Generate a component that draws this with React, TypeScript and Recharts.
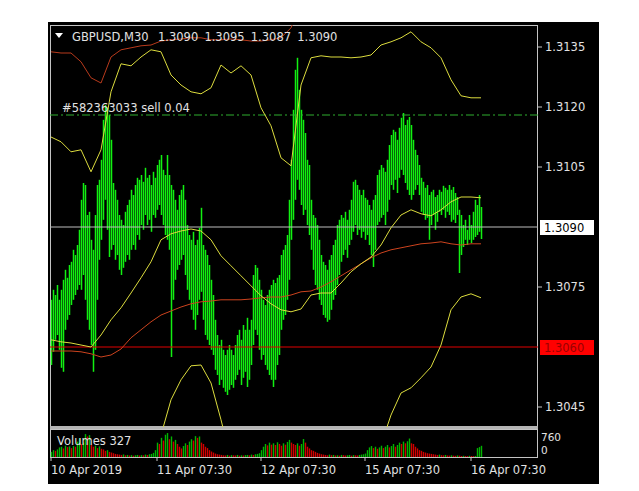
import React from 'react';
import { ComposedChart, Bar, Line, XAxis, YAxis, ReferenceLine } from 'recharts';

const FONT = "'DejaVu Sans', sans-serif";

// ---- header / labels ----
const symbolTitle = 'GBPUSD,M30';
const lastBarOHLC = ['1.3090', '1.3095', '1.3087', '1.3090'];
const orderLabel = '#582363033 sell 0.04';
const volumeLabel = 'Volumes 327';

// ---- price bars (M30), high / low ----
const barHigh = [
  1.30718, 1.30743, 1.3073, 1.30755, 1.30718, 1.30743, 1.30768, 1.30793, 1.30773, 1.30805,
  1.30813, 1.30843, 1.3083, 1.30855, 1.30893, 1.30968, 1.3101, 1.31005, 1.3093, 1.30938,
  1.30868, 1.30843, 1.3093, 1.31005, 1.31018, 1.31068, 1.31168, 1.31205, 1.31198, 1.3118,
  1.31118, 1.3101, 1.30993, 1.30968, 1.3093, 1.30918, 1.30905, 1.30938, 1.30955, 1.30968,
  1.30993, 1.3098, 1.31005, 1.31023, 1.31018, 1.3103, 1.31013, 1.31048, 1.31023, 1.3103,
  1.31005, 1.31038, 1.31023, 1.31055, 1.31068, 1.3108, 1.31043, 1.3103, 1.3108, 1.3103,
  1.31005, 1.30993, 1.30968, 1.30943, 1.3098, 1.30993, 1.31005, 1.30968, 1.30905, 1.3088,
  1.30868, 1.30888, 1.30855, 1.30868, 1.30898, 1.30948, 1.30855, 1.30843, 1.3083, 1.30805,
  1.30768, 1.3073, 1.30668, 1.3063, 1.30605, 1.30618, 1.30593, 1.3058, 1.30593, 1.30605,
  1.30593, 1.3058, 1.30605, 1.3063, 1.30643, 1.30618, 1.30655, 1.30643, 1.30673, 1.30643,
  1.30668, 1.3078, 1.30805, 1.30798, 1.30768, 1.30743, 1.30718, 1.30705, 1.3073, 1.30743,
  1.30755, 1.30768, 1.3076, 1.30773, 1.3078, 1.3083, 1.30843, 1.30855, 1.3088, 1.30968,
  1.31068, 1.31193, 1.31293, 1.31323, 1.31243, 1.31193, 1.31168, 1.31135, 1.31068, 1.31055,
  1.30968, 1.3093, 1.30923, 1.30905, 1.30868, 1.3083, 1.30813, 1.30805, 1.30793, 1.30818,
  1.3083, 1.30855, 1.30868, 1.30905, 1.30918, 1.3093, 1.30923, 1.30938, 1.30918, 1.30943,
  1.30968, 1.31013, 1.31018, 1.31005, 1.30993, 1.3098, 1.30993, 1.30973, 1.30968, 1.30955,
  1.30943, 1.30968, 1.3098, 1.3103, 1.31043, 1.31055, 1.31048, 1.31038, 1.31068, 1.31105,
  1.3113, 1.31143, 1.31138, 1.31118, 1.31148, 1.31173, 1.31185, 1.31155, 1.31168, 1.31175,
  1.31155, 1.31118, 1.31093, 1.3108, 1.31055, 1.31023, 1.31013, 1.30998, 1.31005, 1.3098,
  1.30988, 1.30993, 1.30975, 1.3098, 1.30993, 1.30988, 1.31003, 1.30998, 1.30993, 1.31005,
  1.30993, 1.31, 1.30985, 1.30975, 1.30943, 1.3093, 1.30905, 1.30918, 1.30893, 1.3093,
  1.30905, 1.30938, 1.30968, 1.30955, 1.3098, 1.3095,
];
const barLow = [
  1.30555, 1.30588, 1.30618, 1.3063, 1.30593, 1.30548, 1.30538, 1.30643, 1.30668, 1.3068,
  1.30705, 1.30718, 1.3073, 1.30743, 1.30755, 1.30743, 1.3078, 1.30718, 1.30668, 1.30643,
  1.30605, 1.30538, 1.30593, 1.30718, 1.30818, 1.30868, 1.30918, 1.30968, 1.30893, 1.30825,
  1.30843, 1.30855, 1.30818, 1.3083, 1.30793, 1.3078, 1.30798, 1.30813, 1.3083, 1.30818,
  1.30843, 1.30855, 1.30843, 1.3088, 1.30868, 1.30905, 1.30893, 1.3093, 1.30905, 1.30918,
  1.30888, 1.3093, 1.30923, 1.30943, 1.30955, 1.3093, 1.30905, 1.3088, 1.30868, 1.30843,
  1.30575, 1.30718, 1.30768, 1.30793, 1.30805, 1.30818, 1.3083, 1.3078, 1.30743, 1.30718,
  1.30693, 1.30668, 1.30643, 1.3068, 1.30718, 1.30738, 1.30668, 1.3063, 1.30618, 1.30605,
  1.30593, 1.3058, 1.30543, 1.3053, 1.30505, 1.30518, 1.30498, 1.30488, 1.3048, 1.30493,
  1.30505, 1.30498, 1.30518, 1.3053, 1.30543, 1.30505, 1.30523, 1.30538, 1.305, 1.30518,
  1.30555, 1.30605, 1.30643, 1.3063, 1.30593, 1.30568, 1.3058, 1.30555, 1.30543, 1.3053,
  1.30518, 1.305, 1.30518, 1.30555, 1.3058, 1.30643, 1.30668, 1.3068, 1.30718, 1.30768,
  1.30868, 1.30918, 1.30968, 1.31018, 1.30993, 1.30955, 1.3093, 1.30943, 1.30905, 1.3088,
  1.30843, 1.30793, 1.30755, 1.30743, 1.30718, 1.30705, 1.3068, 1.30673, 1.30663, 1.30668,
  1.30693, 1.30718, 1.3073, 1.30755, 1.3078, 1.30813, 1.3083, 1.30843, 1.30823, 1.30855,
  1.30868, 1.30888, 1.30905, 1.3088, 1.30893, 1.30873, 1.30888, 1.30868, 1.3088, 1.30855,
  1.3083, 1.308, 1.30843, 1.30905, 1.30913, 1.30923, 1.3093, 1.30905, 1.30938, 1.30968,
  1.31005, 1.30993, 1.31018, 1.30985, 1.31023, 1.31043, 1.3103, 1.3101, 1.30993, 1.3098,
  1.30968, 1.3098, 1.30993, 1.31005, 1.3098, 1.30938, 1.3093, 1.30918, 1.30923, 1.30868,
  1.30905, 1.3093, 1.30893, 1.30913, 1.30938, 1.3093, 1.30943, 1.30923, 1.30938, 1.3093,
  1.30913, 1.30918, 1.3091, 1.3093, 1.30785, 1.3083, 1.3085, 1.30868, 1.30855, 1.30868,
  1.3086, 1.30868, 1.30875, 1.3088, 1.30888, 1.3087,
];

// ---- tick volumes ----
const volumes = [
  150, 200, 180,
  220, 280, 300, 250, 330,
  290, 310, 260, 320, 300,
  450, 550, 380,
  420, 670, 600, 640, 350,
  300, 330, 260, 310, 240,
  220, 180, 200, 150, 130,
  110, 90, 80, 70, 60,
  75, 50, 60, 45, 55,
  40, 50, 60, 45, 55,
  50, 70, 60, 80, 90, 120,
  200, 420, 380, 560, 480, 650, 700, 520, 600, 450, 500,
  380, 300, 250, 320,
  400, 350, 450, 520, 480, 610, 560, 600, 420, 380, 300,
  260, 200, 160, 130, 100, 80, 70,
  60, 50, 45, 60, 40, 55, 50, 45, 60, 40, 50, 45, 55, 60, 50, 70, 60, 80, 90, 110,
  200, 300, 380, 340, 420, 360, 400, 350, 430, 380, 330, 400, 360, 440, 500,
  420, 380, 350, 400, 330, 380, 525, 420, 300, 250, 200, 180, 150, 120, 100,
  80, 70, 60, 50, 70, 55, 60, 45, 50, 40, 60, 55, 45, 50, 60, 40, 55, 50, 45, 60, 70, 80, 100,
  200, 280, 320, 260, 300, 240, 280, 330, 260, 300, 350, 280, 320, 380, 300, 350, 420, 380,
  450, 400, 460, 540, 400, 380, 300, 250, 200,
  180, 150, 130, 110, 100, 90, 80, 70, 60, 70, 55, 50, 60, 45, 40, 50, 40, 35, 45, 40,
  30, 35, 30, 25, 35, 30, 25,
  30, 260, 290, 327,
];

// ---- indicator readings, one every LINE_STEP bars ----
const LINE_STEP = 5;
const upperBand = [
  1.31125, 1.31113, 1.31088, 1.31093, 1.31038, 1.31093, 1.31238, 1.31308, 1.31303, 1.31325,
  1.31343, 1.31338, 1.3128, 1.31255, 1.31238, 1.31233, 1.31248, 1.31305, 1.31285, 1.31303,
  1.3128, 1.31198, 1.31153, 1.31073, 1.31053, 1.31255, 1.31323, 1.31328, 1.31325, 1.31325,
  1.31323, 1.31325, 1.3133, 1.31355, 1.31363, 1.31373, 1.31388, 1.31363, 1.31348, 1.31323,
  1.31268, 1.31228, 1.31223, 1.31223,
];
const middleBand = [
  1.30618, 1.30613, 1.3061, 1.30605, 1.306, 1.3063, 1.30668, 1.30698, 1.30735, 1.30773,
  1.30813, 1.30868, 1.30883, 1.3089, 1.30895, 1.3089, 1.30868, 1.30828, 1.30803, 1.30778,
  1.30753, 1.30728, 1.30708, 1.30693, 1.30688, 1.30695, 1.3073, 1.30735, 1.30735, 1.3076,
  1.30788, 1.30808, 1.30825, 1.30855, 1.30898, 1.3093, 1.30943, 1.30933, 1.30928, 1.30943,
  1.30963, 1.30975, 1.30975, 1.30973,
];
const lowerBand = [
  1.30118, 1.30118, 1.3013, 1.30118, 1.30168, 1.30143, 1.30093, 1.30093, 1.30168, 1.30218,
  1.3028, 1.3038, 1.30468, 1.30518, 1.30553, 1.30555, 1.3051, 1.30418, 1.30318, 1.30243,
  1.30218, 1.30243, 1.30255, 1.30305, 1.30318, 1.30143, 1.3013, 1.30143, 1.30143, 1.30193,
  1.30255, 1.30293, 1.30318, 1.30355, 1.3043, 1.30485, 1.30498, 1.30523, 1.3055, 1.30605,
  1.30693, 1.30725, 1.30733, 1.30723,
];
const slowMA = [
  1.3059, 1.3059, 1.3059, 1.30588, 1.30583, 1.30575, 1.3058, 1.30595, 1.30623, 1.30643,
  1.30663, 1.3068, 1.3069, 1.307, 1.30708, 1.30713, 1.30715, 1.30718, 1.30718, 1.30718,
  1.3072, 1.30723, 1.30725, 1.30725, 1.3073, 1.30738, 1.3074, 1.3075, 1.30763, 1.30778,
  1.30793, 1.30808, 1.30823, 1.30835, 1.30843, 1.30848, 1.30853, 1.30858, 1.3086, 1.30863,
  1.30858, 1.30855, 1.30858, 1.30858,
];
const outerUpper = [
  1.31338, 1.31335, 1.31335, 1.31313, 1.31273, 1.3126, 1.31325, 1.31343, 1.31348, 1.31353,
  1.31355, 1.31365, 1.31368, 1.3137, 1.31373, 1.31373, 1.31368, 1.31368, 1.3137, 1.31368,
  1.31365, 1.31365, 1.31368, 1.31373, 1.31398, 1.31455, 1.31493, 1.3151, 1.3152, 1.3152,
  1.3152, 1.3153, 1.3154, 1.3155, 1.3156, 1.3157, 1.3158, 1.3158, 1.3158, 1.3157,
  1.3156, 1.3155, 1.3154, 1.3154,
];

// ---- axes ----
const priceMin = 1.304;
const priceMax = 1.31405;
const priceTicks = [1.3045, 1.306, 1.3075, 1.309, 1.3105, 1.312, 1.3135];
const bidPrice = 1.309;
const stopPrice = 1.306;
const orderPrice = 1.3118;
const volumeMax = 760;
const timeLabels = ['10 Apr 2019', '11 Apr 07:30', '12 Apr 07:30', '15 Apr 07:30', '16 Apr 07:30'];
const timeLabelBars = [0, 53, 105, 157, 210];
const SLOTS = 244;

const BAR_GREEN = '#12f012';
const VOL_UP = '#00b400';
const VOL_DOWN = '#d00000';

const table = Array.from({ length: SLOTS }, (_, i) => {
  const row: any = { idx: i };
  if (i < barHigh.length) {
    row.hl = [barLow[i], barHigh[i]];
    row.vol = volumes[i];
    row.volUp = i === 0 ? true : volumes[i] > volumes[i - 1];
  }
  if (i % LINE_STEP === 0) {
    const k = i / LINE_STEP;
    if (k < upperBand.length) {
      row.upper = upperBand[k];
      row.middle = middleBand[k];
      row.lower = lowerBand[k];
      row.ma = slowMA[k];
      row.outer = outerUpper[k];
    }
  }
  return row;
});

const TXT = '#e2e2e2';

const PriceBar = (p: any) => {
  if (!p || !p.payload || !p.payload.hl || !isFinite(p.y) || !isFinite(p.height)) return <g />;
  const cx = Math.round(p.x + p.width / 2) - 0.5;
  return (
    <line x1={cx} x2={cx} y1={p.y} y2={p.y + Math.max(1, p.height)}
      stroke={BAR_GREEN} strokeWidth={1.5} />
  );
};

const VolBar = (p: any) => {
  if (!p || !p.payload || p.payload.vol == null || !isFinite(p.y) || !isFinite(p.height)) return <g />;
  const cx = Math.round(p.x + p.width / 2) - 0.5;
  return (
    <line x1={cx} x2={cx} y1={p.y} y2={p.y + p.height}
      stroke={p.payload.volUp ? VOL_UP : VOL_DOWN} strokeWidth={1.4} />
  );
};

const PriceTick = (props: any) => {
  const { x, y, payload } = props;
  const v = payload.value as number;
  const txt = v.toFixed(4);
  const base = { fontFamily: FONT, fontSize: 11.5 };
  if (Math.abs(v - bidPrice) < 1e-7) {
    return (
      <g>
        <rect x={x + 2} y={y - 7} width={54} height={15} fill="#ffffff" />
        <text x={x + 6} y={y + 0.5} dominantBaseline="central" fill="#000000" style={base}>{txt}</text>
      </g>
    );
  }
  if (Math.abs(v - stopPrice) < 1e-7) {
    return (
      <g>
        <rect x={x + 2} y={y - 7} width={54} height={15} fill="#ff0000" />
        <text x={x + 6} y={y + 0.5} dominantBaseline="central" fill="#9a0000" style={base}>{txt}</text>
      </g>
    );
  }
  return (
    <g>
      <line x1={x} x2={x + 4} y1={y} y2={y} stroke="#c8c8c8" />
      <text x={x + 7} y={y} dominantBaseline="central" fill={TXT} style={base}>{txt}</text>
    </g>
  );
};

const VolTick = (props: any) => {
  const { x, y, payload } = props;
  const v = payload.value as number;
  const dy = v === volumeMax ? 6 : -7;
  return (
    <text x={x + 3} y={y + dy} dominantBaseline="central" fill={TXT}
      style={{ fontFamily: FONT, fontSize: 10.5 }}>{String(v)}</text>
  );
};

const TimeTick = (props: any) => {
  const { x, y, payload } = props;
  const k = timeLabelBars.indexOf(payload.value);
  const label = k >= 0 ? timeLabels[k] : '';
  return (
    <g>
      <line x1={x} x2={x} y1={y} y2={y + 4} stroke="#c8c8c8" />
      <text x={x} y={y + 17} fill={TXT} style={{ fontFamily: FONT, fontSize: 11.5 }}>{label}</text>
    </g>
  );
};

const abs = (l: number, t: number, extra: any = {}) => ({ position: 'absolute' as const, left: l, top: t, ...extra });
const textStyle = { fontFamily: FONT, fontSize: 11.5, lineHeight: '12px', color: TXT, whiteSpace: 'pre' as const };

export default function App() {
  const bandColor = '#dcdc3e';
  return (
    <div style={{ position: 'absolute', left: 0, top: 0, width: 639, height: 491, background: '#ffffff', overflow: 'hidden' }}>
      <div style={abs(48, 22, { width: 551, height: 462, background: '#000000' })} />
      {/* panel frames */}
      <div style={abs(50, 25, { width: 488, height: 402, border: '1px solid #c4c4c4', boxSizing: 'border-box' })} />
      <div style={abs(50, 426, { width: 488, height: 4, background: '#b4b4b4' })} />
      <div style={abs(50, 429, { width: 488, height: 29, border: '1px solid #c4c4c4', boxSizing: 'border-box' })} />

      <div style={abs(50, 25)}>
        <ComposedChart width={550} height={402} data={table} margin={{ top: 0, right: 0, bottom: 0, left: 0 }}>
          <XAxis dataKey="idx" type="category" hide />
          <YAxis orientation="right" width={62} domain={[priceMin, priceMax]} allowDataOverflow
            ticks={priceTicks} interval={0} tickSize={0} tickMargin={0} axisLine={false} tickLine={false}
            tick={(p: any) => <PriceTick {...p} />} />
          <Bar dataKey="hl" barSize={1} fill={BAR_GREEN} shape={(p: any) => <PriceBar {...p} />} isAnimationActive={false} />
          <ReferenceLine y={orderPrice} stroke="#2eae2e" strokeDasharray="8 3 2 3" />
          <ReferenceLine y={bidPrice} stroke="#bdbdbd" />
          <ReferenceLine y={stopPrice} stroke="#e00000" />
          <Line dataKey="outer" type="linear" stroke="#b83a1c" strokeWidth={1} dot={false} connectNulls isAnimationActive={false} />
          <Line dataKey="ma" type="linear" stroke="#cc431e" strokeWidth={1} dot={false} connectNulls isAnimationActive={false} />
          <Line dataKey="upper" type="linear" stroke={bandColor} strokeWidth={1} dot={false} connectNulls isAnimationActive={false} />
          <Line dataKey="middle" type="linear" stroke={bandColor} strokeWidth={1} dot={false} connectNulls isAnimationActive={false} />
          <Line dataKey="lower" type="linear" stroke={bandColor} strokeWidth={1} dot={false} connectNulls isAnimationActive={false} />
        </ComposedChart>
      </div>

      <div style={abs(50, 430)}>
        <ComposedChart width={550} height={54} data={table} margin={{ top: 1, right: 0, bottom: 1, left: 0 }}>
          <XAxis dataKey="idx" type="category" height={26} ticks={timeLabelBars} interval={0}
            tickSize={0} tickMargin={0} axisLine={false} tickLine={false} tick={(p: any) => <TimeTick {...p} />} />
          <YAxis orientation="right" width={62} domain={[0, volumeMax]} allowDataOverflow ticks={[0, volumeMax]}
            interval={0} tickSize={0} tickMargin={0} axisLine={false} tickLine={false} tick={(p: any) => <VolTick {...p} />} />
          <Bar dataKey="vol" barSize={1} shape={(p: any) => <VolBar {...p} />} isAnimationActive={false} />
        </ComposedChart>
      </div>

      {/* header */}
      <svg style={abs(55, 33)} width={9} height={6}>
        <polygon points="0,0 8,0 4,5" fill="#ffffff" />
      </svg>
      <div style={abs(72, 31, textStyle)}>{symbolTitle}</div>
      <div style={abs(158, 31, { ...textStyle, wordSpacing: '2.5px' })}>{lastBarOHLC.join(' ')}</div>
      <div style={abs(62, 102, textStyle)}>{orderLabel}</div>
      <div style={abs(57, 435, textStyle)}>{volumeLabel}</div>
    </div>
  );
}
